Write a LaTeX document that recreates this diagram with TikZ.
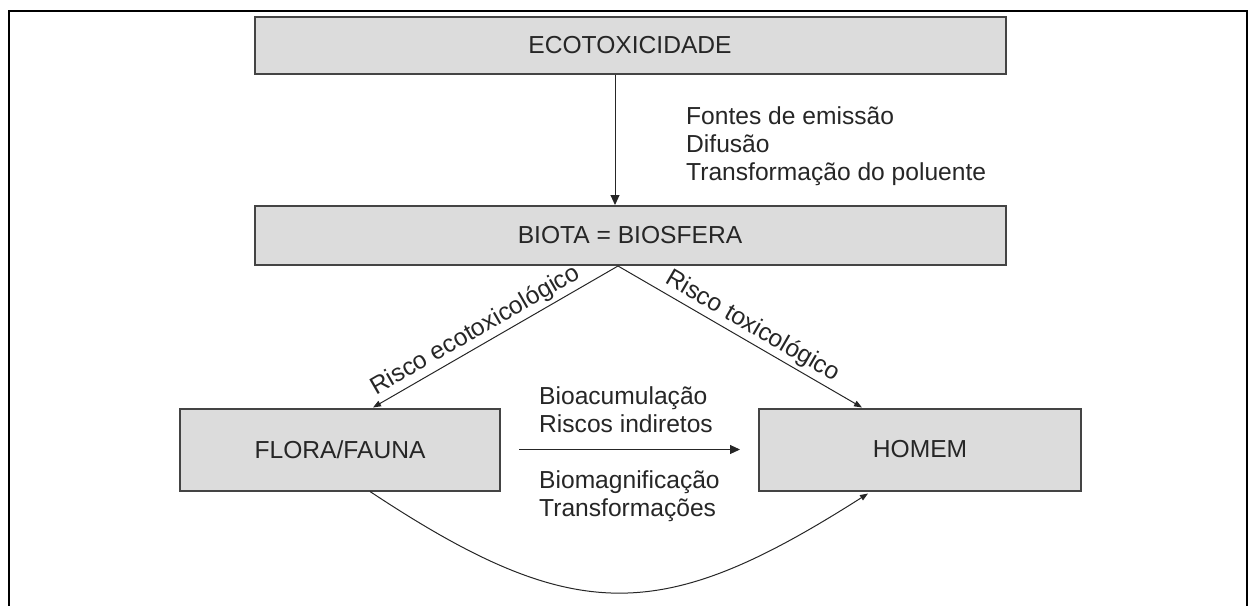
\documentclass[tikz,border=0pt]{standalone}
\usepackage{fontspec}
\setmainfont{Liberation Sans}
\usetikzlibrary{arrows.meta}
\definecolor{boxfill}{HTML}{DCDCDC}
\definecolor{boxline}{HTML}{444444}
\definecolor{ink}{HTML}{262626}
\begin{document}
\begin{tikzpicture}[x=1pt,y=-1pt,
  every node/.style={font=\fontsize{24.6}{28}\selectfont, text=ink},
  boxnode/.style={draw=boxline, line width=2pt, fill=boxfill, inner sep=0pt},
  conn/.style={draw=ink, line width=1pt},
  tipA/.style={-{Triangle[length=10pt,width=9pt]}},
  tipB/.style={-{Triangle[length=8pt,width=6pt]}},
  txt/.style={inner sep=0pt, anchor=base west},
  slopelbl/.style={sloped, above=2pt, inner sep=1pt}
]
\useasboundingbox (0,0) rectangle (1249,605);
% outer frame (bottom edge lies outside the picture)
\draw[line width=2.5pt, black] (9,640) -- (9,11) -- (1247,11) -- (1247,640);

\node[boxnode, minimum width=751pt, minimum height=57pt] (eco) at (630,45) {ECOTOXICIDADE};
\node[boxnode, minimum width=751pt, minimum height=59pt] (biota) at (630,235.5) {BIOTA = BIOSFERA};
\node[boxnode, minimum width=320pt, minimum height=82pt] (flora) at (340,449.5) {FLORA/FAUNA};
\node[boxnode, minimum width=322pt, minimum height=82pt] (homem) at (920,449.5) {HOMEM};

\coordinate (apex) at ([xshift=-12pt]biota.south);

% vertical arrow
\draw[conn, tipA] ([xshift=-15pt]eco.south) -- ([xshift=-15pt]biota.north);
\node[txt] (f1) at (686,124) {Fontes de emissão};
\node[txt] (f2) at (686,152.5) {Difusão};
\node[txt] (f3) at (686,180.5) {Transformação do poluente};

% diagonals
\draw[conn, tipB] (apex) -- ([xshift=33pt]flora.north)
  node[slopelbl, pos=0.55] (l1) {Risco ecotoxicológico};
\draw[conn, tipB] (apex) -- ([xshift=-58pt]homem.north)
  node[slopelbl, pos=0.52] (l2) {Risco toxicológico};

% horizontal arrow
\draw[conn, tipA] ([xshift=18pt]flora.east) -- ([xshift=-18pt]homem.west);
\node[txt] (b1) at (539,404) {Bioacumulação};
\node[txt] (b2) at (539,432) {Riscos indiretos};
\node[txt] (b3) at (539,488) {Biomagnificação};
\node[txt] (b4) at (539,516) {Transformações};

% lower curve
\draw[conn, tipB] ([xshift=30pt]flora.south) .. controls (576,628) and (663,624) .. ([xshift=-52pt,yshift=-2pt]homem.south);
\end{tikzpicture}
\end{document}
